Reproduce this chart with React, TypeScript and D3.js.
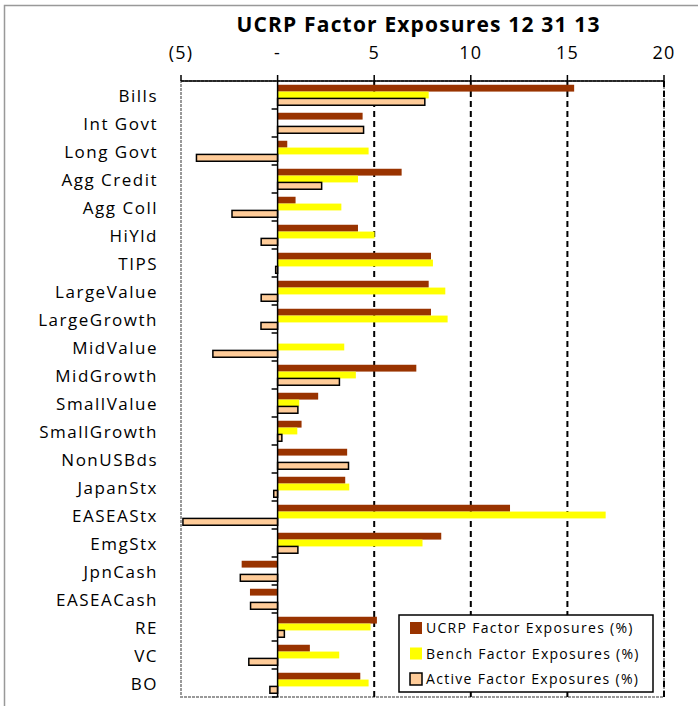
import React from "react";
import * as d3 from "d3";

const categories = ["Bills","Int Govt","Long Govt","Agg Credit","Agg Coll","HiYld","TIPS","LargeValue","LargeGrowth","MidValue","MidGrowth","SmallValue","SmallGrowth","NonUSBds","JapanStx","EASEAStx","EmgStx","JpnCash","EASEACash","RE","VC","BO"];
const ucrp = [15.35,4.4,0.5,6.42,0.93,4.16,7.94,7.82,7.94,0,7.18,2.1,1.24,3.6,3.5,12.03,8.47,-1.86,-1.43,5.14,1.67,4.28];
const bench = [7.82,0,4.71,4.16,3.3,5.02,8.04,8.68,8.8,3.45,4.05,1.12,1.02,0,3.71,16.98,7.5,0,0,4.81,3.19,4.71];
const active = [7.62,4.45,-4.2,2.28,-2.36,-0.85,-0.1,-0.85,-0.86,-3.35,3.2,1.05,0.22,3.67,-0.2,-4.9,1.05,-1.93,-1.4,0.35,-1.49,-0.4];
const xTicks = [-5,0,5,10,15,20];
const seriesNames = ["UCRP Factor Exposures (%)","Bench Factor Exposures (%)","Active Factor Exposures (%)"];
const colors = ["#993300","#FFFF00","#FFCC99"];

const W = 698, H = 706;
const L = 181, R = 664, T = 81, B = 697;
const FONT = "'Open Sans', 'DejaVu Sans', sans-serif";

export default function App() {
  const x = d3.scaleLinear().domain([-5, 20]).range([L, R]);
  const y = d3.scaleBand().domain(categories).range([T, B]);
  const inner = d3.scaleBand().domain(["0","1","2"]).range([0, y.bandwidth()]).paddingInner(0).paddingOuter(0.55);
  const series = [ucrp, bench, active];
  const fmt = (v: number) => (v === 0 ? "-" : v < 0 ? `(${Math.abs(v)})` : `${v}`);
  return (
    <svg width={W} height={H} style={{ position: "absolute", left: 0, top: 0, background: "#fff" }}>
      <rect x={4.5} y={5.5} width={720} height={720} fill="#fff" stroke="#999" strokeWidth={1.5} />
      <text x={418} y={32} textAnchor="middle" fontFamily={FONT} fontWeight="bold" fontSize={21} textLength={363} lengthAdjust="spacing">UCRP Factor  Exposures  12 31 13</text>
      {/* plot area border */}
      <rect x={L} y={T} width={R - L} height={B - T} fill="none" stroke="#999" strokeWidth={2} strokeDasharray="3,1" />
      {/* gridlines */}
      {xTicks.filter(t => t > 0).map(t => (
        <line key={t} x1={x(t)} x2={x(t)} y1={T} y2={B} stroke="#000" strokeWidth={2} strokeDasharray="6,4" />
      ))}
      {/* bars */}
      {series.map((s, si) => s.map((v, i) => {
        const x0 = x(Math.min(0, v)), x1 = x(Math.max(0, v));
        const yy = (y(categories[i]) as number) + (inner(String(si)) as number);
        if (v === 0) return null;
        return (
          <rect key={`${si}-${i}`} x={x0} y={yy} width={x1 - x0} height={inner.bandwidth()}
            fill={colors[si]} stroke={si === 2 ? "#000" : "none"} strokeWidth={si === 2 ? 1.5 : 0} />
        );
      }))}
      {/* zero axis */}
      <line x1={x(0)} x2={x(0)} y1={T} y2={B} stroke="#000" strokeWidth={1.5} />
      {categories.map((c) => (
        <line key={c} x1={x(0) - 6} x2={x(0)} y1={(y(c) as number) + y.bandwidth()} y2={(y(c) as number) + y.bandwidth()} stroke="#000" strokeWidth={1.5} />
      ))}
      {/* top axis */}
      <line x1={L} x2={R} y1={T} y2={T} stroke="#000" strokeWidth={1.5} />
      {xTicks.map(t => (
        <g key={t}>
          <line x1={x(t)} x2={x(t)} y1={T - 6} y2={T} stroke="#000" strokeWidth={1.5} />
          <text x={x(t)} y={59} textAnchor="middle" fontFamily={FONT} fontSize={18} letterSpacing={1.2}>{fmt(t)}</text>
        </g>
      ))}
      {/* category labels */}
      {categories.map(c => (
        <text key={c} x={158} y={(y(c) as number) + y.bandwidth() / 2 + 6.5} textAnchor="end" fontFamily={FONT} fontSize={17} letterSpacing={1.5}>{c}</text>
      ))}
      {/* legend */}
      <rect x={399} y={615} width={254} height={77} fill="#fff" stroke="#000" strokeWidth={1.5} />
      {seriesNames.map((n, i) => (
        <g key={n}>
          <rect x={410} y={622 + i * 25.5} width={12} height={12} fill={colors[i]} stroke={i === 2 ? "#000" : "none"} strokeWidth={1.5} />
          <text x={426} y={633 + i * 25.5} fontFamily={FONT} fontSize={14} letterSpacing={1.3}>{n}</text>
        </g>
      ))}
    </svg>
  );
}
